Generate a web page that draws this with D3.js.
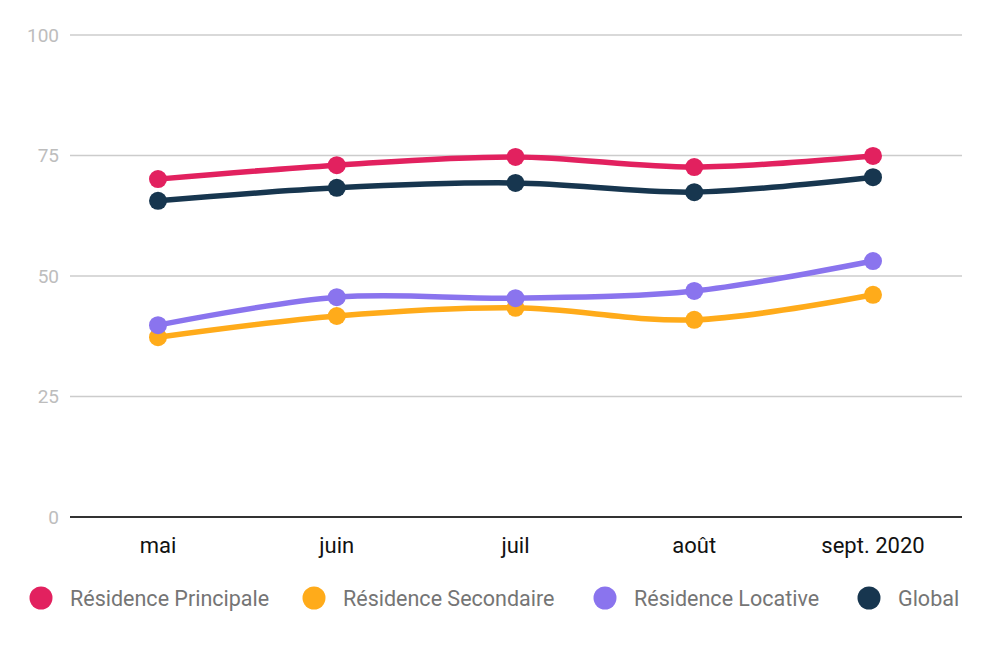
<!DOCTYPE html>
<html><head><meta charset="utf-8">
<script src="https://cdn.jsdelivr.net/npm/d3@7/dist/d3.min.js"></script>
<style>body{margin:0;background:#fff;}svg{display:block;font-family:Roboto,sans-serif;}</style>
</head><body><svg id="c" width="984" height="648"></svg>
<script>
const months = ["mai", "juin", "juil", "août", "sept. 2020"];
const principale = [70.1, 73.0, 74.7, 72.6, 74.9];
const secondaire = [37.3, 41.7, 43.4, 40.9, 46.1];
const locative = [39.8, 45.6, 45.4, 46.9, 53.1];
const globalVals = [65.6, 68.3, 69.3, 67.4, 70.5];
const yTicks = [0, 25, 50, 75, 100];
const seriesNames = ["Résidence Principale", "Résidence Secondaire", "Résidence Locative", "Global"];
const colors = ["#e2215f", "#ffab1a", "#8a74ee", "#17364f"];

(function () {
const series = [principale, secondaire, locative, globalVals];
const svg = d3.select("#c");
const pLeft = 70, pRight = 962, pTop = 35, pBottom = 517;
const x = d3.scalePoint().domain(months).range([158, 873]);
const y = d3.scaleLinear().domain([0, 100]).range([pBottom, pTop]);

const grid = svg.append("g");
yTicks.forEach(t => {
  if (t !== 0) grid.append("line").attr("x1", pLeft).attr("x2", pRight).attr("y1", y(t)).attr("y2", y(t))
    .attr("stroke", "#cccccc").attr("stroke-width", 1.5);
  grid.append("text").attr("x", 59).attr("y", y(t)).attr("dy", "0.35em").attr("text-anchor", "end")
    .attr("fill", "#bdbdbd").attr("font-size", 19).text(t);
});
svg.append("line").attr("x1", pLeft).attr("x2", pRight).attr("y1", y(0)).attr("y2", y(0))
  .attr("stroke", "#333333").attr("stroke-width", 2);

months.forEach(m => {
  svg.append("text").attr("x", x(m)).attr("y", 553).attr("text-anchor", "middle")
    .attr("fill", "#111").attr("font-size", 22).attr("textLength", null).text(m);
});

const line = d3.line().x((d, i) => x(months[i])).y(d => y(d)).curve(d3.curveCatmullRom.alpha(0.5));
[1, 2, 3, 0].forEach(k => {
  const g = svg.append("g");
  g.append("path").attr("d", line(series[k])).attr("fill", "none").attr("stroke", colors[k])
    .attr("stroke-width", 5.5).attr("stroke-linejoin", "round").attr("stroke-linecap", "round");
  g.selectAll("circle").data(series[k]).join("circle")
    .attr("cx", (d, i) => x(months[i])).attr("cy", d => y(d)).attr("r", 9).attr("fill", colors[k]);
});

const legX = [41, 314, 605, 869];
seriesNames.forEach((n, i) => {
  svg.append("circle").attr("cx", legX[i]).attr("cy", 598).attr("r", 11.5).attr("fill", colors[i]);
  svg.append("text").attr("x", legX[i] + 29).attr("y", 598).attr("dy", "0.35em")
    .attr("fill", "#757575").attr("font-size", 21.5).text(n);
});
})();
</script></body></html>
